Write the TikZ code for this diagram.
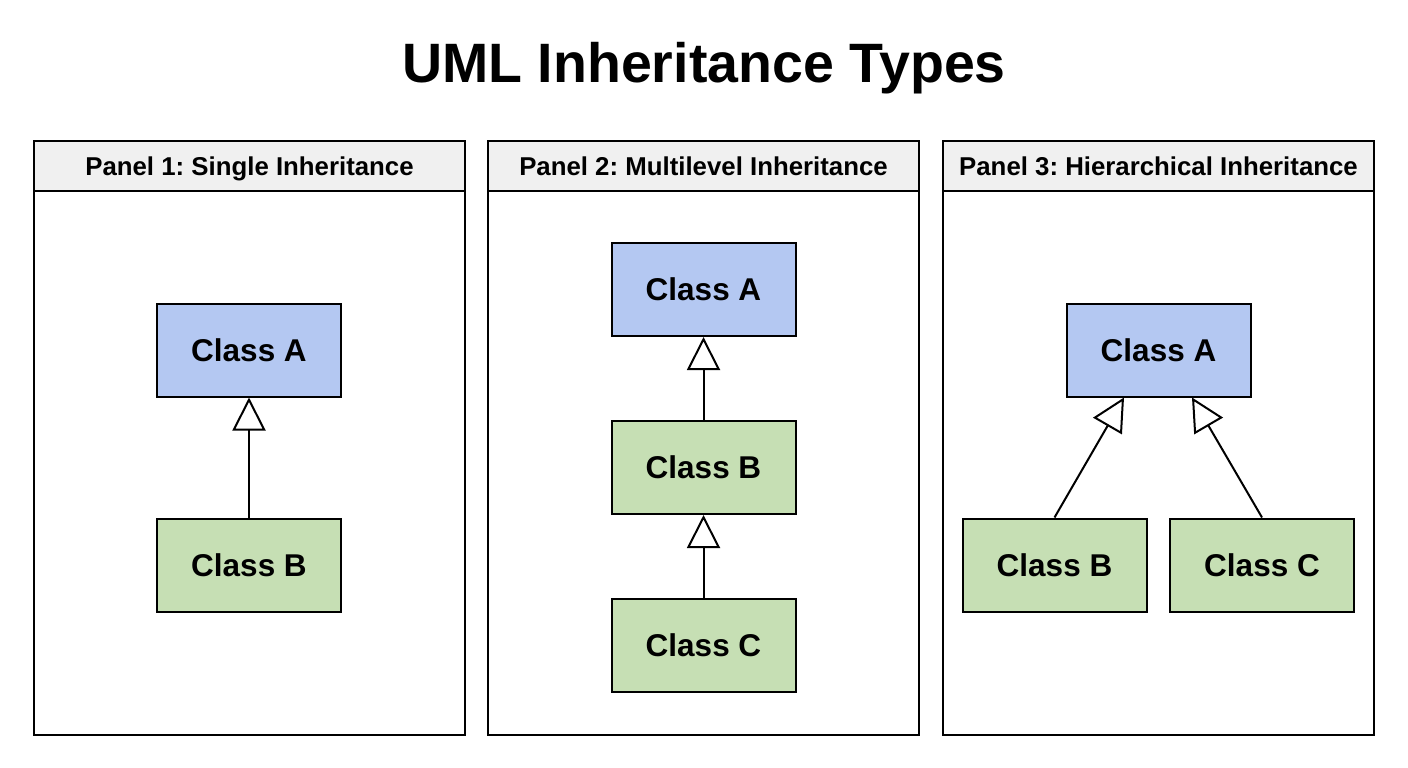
\documentclass[tikz,border=0pt]{standalone}
\usepackage{fontspec}
\setmainfont{Liberation Sans}
\usetikzlibrary{arrows.meta,calc}
\frenchspacing
\definecolor{blueA}{RGB}{180,200,242}
\definecolor{greenB}{RGB}{198,223,180}
\definecolor{hdr}{RGB}{240,240,240}
\tikzset{
  panel/.style={draw=black, line width=2pt, fill=white},
  header/.style={draw=black, line width=2pt, fill=hdr},
  htext/.style={anchor=base, font=\fontsize{25.8}{28}\selectfont\bfseries},
  cls/.style={draw=black, line width=2pt, minimum width=184pt, minimum height=93pt, inner sep=0pt, font=\fontsize{31.5}{34}\selectfont\bfseries},
  clsA/.style={cls, fill=blueA},
  clsB/.style={cls, fill=greenB},
  inh/.style={line width=2pt, -{Triangle[length=33pt, width=33pt, fill=white, line width=2pt]}}
}
\begin{document}
\begin{tikzpicture}[x=1pt,y=-1pt]
\useasboundingbox (0,0) rectangle (1408,768);
\fill[white] (0,0) rectangle (1408,768);
\node[font=\fontsize{55.5}{60}\selectfont\bfseries] (title) at (704,68) {UML Inheritance Types};
% panels
\foreach \x/\n/\t in {34/p1/Panel 1: Single Inheritance, 488/p2/Panel 2: Multilevel Inheritance, 943/p3/Panel 3: Hierarchical Inheritance}{
  \draw[panel] (\x,141) rectangle ++(431,594);
  \draw[header] (\x,141) rectangle ++(431,50);
  \node[htext] (\n) at ({\x+215.5},175.5) {\t};
}
% panel 1
\node[clsA] (a1) at (249,350) {Class A};
\node[clsB] (b1) at (249,565) {Class B};
\draw[inh] (b1.north) -- (a1.south);
% panel 2
\node[clsA] (a2) at (703.5,289.5) {Class A};
\node[clsB] (b2) at (703.5,467.5) {Class B};
\node[clsB] (c2) at (703.5,645) {Class C};
\draw[inh] (b2.north) -- (a2.south);
\draw[inh] (c2.north) -- (b2.south);
% panel 3
\node[clsA] (a3) at (1158.5,350) {Class A};
\node[clsB] (b3) at (1054.5,565) {Class B};
\node[clsB] (c3) at (1262,565) {Class C};
\draw[inh] (b3.north) -- ($(a3.south)+(-34.5,0)$);
\draw[inh] (c3.north) -- ($(a3.south)+(33.5,0)$);
\end{tikzpicture}
\end{document}
